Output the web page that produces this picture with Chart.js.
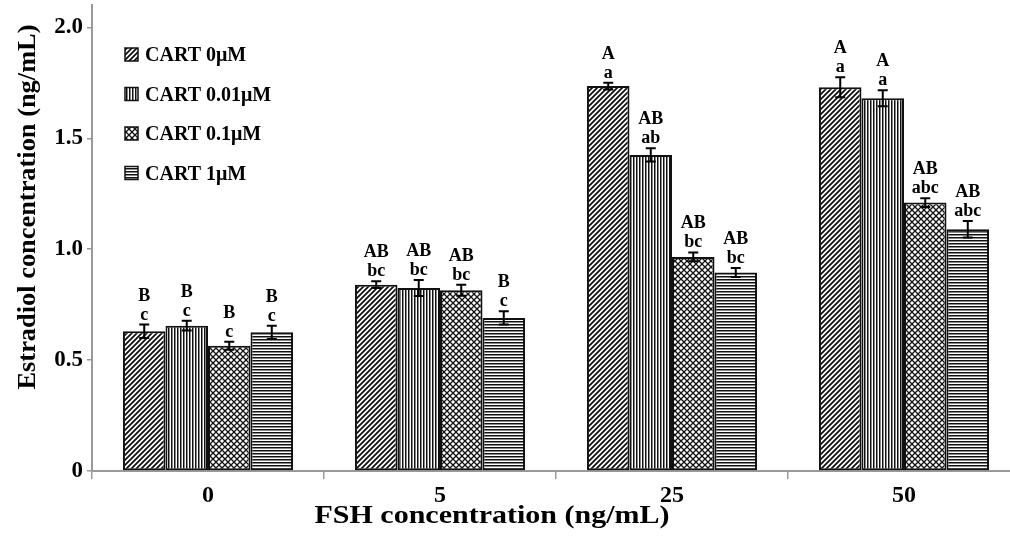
<!DOCTYPE html>
<html>
<head>
<meta charset="utf-8">
<script src="https://cdn.jsdelivr.net/npm/chart.js@4/dist/chart.umd.min.js"></script>
<style>
  html, body { margin: 0; padding: 0; background: #fff; overflow: hidden; }
  #wrap { width: 1010px; height: 536px; overflow: hidden; }
</style>
</head>
<body>
<div id="wrap"><canvas id="chart" width="1020" height="536"></canvas></div>
<script>
// FSH doses (x categories)
const categories = ['0', '5', '25', '50'];
const seriesNames = ['CART 0\u03bcM', 'CART 0.01\u03bcM', 'CART 0.1\u03bcM', 'CART 1\u03bcM'];

// estradiol means per CART dose
const cart0 = [0.63, 0.84, 1.735, 1.73];
const cart001 = [0.655, 0.825, 1.425, 1.68];
const cart01 = [0.565, 0.815, 0.965, 1.21];
const cart1 = [0.625, 0.69, 0.895, 1.09];

// error bar half-lengths
const err0 = [0.03, 0.015, 0.015, 0.045];
const err001 = [0.022, 0.036, 0.03, 0.036];
const err01 = [0.018, 0.025, 0.02, 0.02];
const err1 = [0.03, 0.03, 0.02, 0.037];

// significance letters
const upper0 = ['B', 'AB', 'A', 'A'];
const lower0 = ['c', 'bc', 'a', 'a'];
const upper001 = ['B', 'AB', 'AB', 'A'];
const lower001 = ['c', 'bc', 'ab', 'a'];
const upper01 = ['B', 'AB', 'AB', 'AB'];
const lower01 = ['c', 'bc', 'bc', 'abc'];
const upper1 = ['B', 'B', 'AB', 'AB'];
const lower1 = ['c', 'c', 'bc', 'abc'];

const yTicks = [0, 0.5, 1.0, 1.5, 2.0];

const FONT = '"Liberation Serif", "Times New Roman", serif';

function makePattern(kind) {
    let c = document.createElement('canvas');
    let g = c.getContext('2d');
    let s = kind === 'diag' ? 5 : (kind === 'cross' ? 6 : 3);
    c.width = s; c.height = s;
    g.fillStyle = '#fff';
    g.fillRect(0, 0, s, s);
    g.strokeStyle = '#111';
    if (kind === 'diag') {
        g.lineWidth = 1.8;
        g.beginPath();
        g.moveTo(-1, s + 1); g.lineTo(s + 1, -1);
        g.moveTo(-1, 1); g.lineTo(1, -1);
        g.moveTo(s - 1, s + 1); g.lineTo(s + 1, s - 1);
        g.stroke();
    } else if (kind === 'vert') {
        g.fillStyle = '#111'; g.fillRect(0, 0, 1, s);
        g.fillStyle = '#888'; g.fillRect(1, 0, 1, s);
    } else if (kind === 'horiz') {
        g.fillStyle = '#111'; g.fillRect(0, 0, s, 1);
        g.fillStyle = '#888'; g.fillRect(0, 1, s, 1);
    } else {
        g.lineWidth = 1.3;
        g.beginPath();
        g.moveTo(0, 0); g.lineTo(s, s);
        g.moveTo(s, 0); g.lineTo(0, s);
        g.stroke();
    }
    return document.createElement('canvas').getContext('2d').createPattern(c, 'repeat');
}

const patterns = [makePattern('diag'), makePattern('vert'), makePattern('cross'), makePattern('horiz')];
const values = [cart0, cart001, cart01, cart1];
const errors = [err0, err001, err01, err1];
const uppers = [upper0, upper001, upper01, upper1];
const lowers = [lower0, lower001, lower01, lower1];

const datasets = seriesNames.map((name, i) => ({
    label: name,
    data: values[i],
    backgroundColor: patterns[i],
    borderColor: '#111',
    borderWidth: 2,
    borderSkipped: false,
    categoryPercentage: 0.733,
    barPercentage: 1.0
}));

const extrasPlugin = {
    id: 'extras',
    afterDatasetsDraw: function (chart) {
        let ctx = chart.ctx;
        let y = chart.scales.y;
        ctx.save();
        chart.data.datasets.forEach((ds, i) => {
            let meta = chart.getDatasetMeta(i);
            meta.data.forEach((bar, j) => {
                let v = ds.data[j], e = errors[i][j];
                let top = y.getPixelForValue(v + e), bot = y.getPixelForValue(v - e);
                let x = bar.x;
                ctx.strokeStyle = '#000';
                ctx.lineWidth = 2;
                ctx.beginPath();
                ctx.moveTo(x, top); ctx.lineTo(x, bot);
                ctx.moveTo(x - 5, top); ctx.lineTo(x + 5, top);
                ctx.moveTo(x - 5, bot); ctx.lineTo(x + 5, bot);
                ctx.stroke();
                ctx.fillStyle = '#000';
                ctx.font = 'bold 18px ' + FONT;
                ctx.textAlign = 'center';
                ctx.textBaseline = 'alphabetic';
                ctx.fillText(lowers[i][j], x, top - 5);
                ctx.fillText(uppers[i][j], x, top - 24);
            });
        });
        ctx.restore();
    },
    afterDraw: function (chart) {
        let ctx = chart.ctx;
        ctx.save();
        ctx.fillStyle = '#000';
        // legend
        ctx.font = 'bold 20px ' + FONT;
        ctx.textBaseline = 'middle';
        ctx.textAlign = 'left';
        chart.data.datasets.forEach((ds, i) => {
            let cy = 55 + i * 39.5;
            ctx.fillStyle = ds.backgroundColor;
            ctx.fillRect(125, cy - 7, 13, 13);
            ctx.strokeStyle = '#111';
            ctx.lineWidth = 1.5;
            ctx.strokeRect(125, cy - 7, 13, 13);
            ctx.fillStyle = '#000';
            ctx.fillText(ds.label, 145, cy + 1);
        });
        // axis titles
        ctx.font = 'bold 26px ' + FONT;
        ctx.textAlign = 'center';
        ctx.textBaseline = 'alphabetic';
        let xt = 'FSH concentration (ng/mL)';
        let w = ctx.measureText(xt).width;
        ctx.save();
        ctx.translate(492, 523);
        ctx.scale(355 / w, 1);
        ctx.fillText(xt, 0, 0);
        ctx.restore();
        let yt = 'Estradiol concentration (ng/mL)';
        let wy = ctx.measureText(yt).width;
        ctx.save();
        ctx.translate(35, 207);
        ctx.rotate(-Math.PI / 2);
        ctx.scale(365 / wy, 1);
        ctx.fillText(yt, 0, 0);
        ctx.restore();
        ctx.restore();
    }
};

new Chart(document.getElementById('chart'), {
    type: 'bar',
    data: { labels: categories, datasets: datasets },
    options: {
        responsive: false,
        animation: false,
        devicePixelRatio: 1,
        layout: { padding: { top: 2, right: 0, left: 0, bottom: 0 } },
        plugins: {
            legend: { display: false },
            tooltip: { enabled: false }
        },
        scales: {
            x: {
                offset: true,
                grid: { display: true, drawOnChartArea: false, drawTicks: true, tickLength: 8, color: '#999', lineWidth: 1.5 },
                border: { color: '#999', width: 2 },
                ticks: { color: '#000', font: { family: FONT, size: 24, weight: 'bold' }, padding: 2 },
                afterFit: function (s) { s.height = 65; }
            },
            y: {
                min: 0,
                max: 2.1,
                grid: { display: true, drawOnChartArea: false, drawTicks: true, tickLength: 5, color: '#999', lineWidth: 1.5 },
                border: { color: '#999', width: 2 },
                ticks: {
                    color: '#000',
                    font: { family: FONT, size: 23, weight: 'bold', lineHeight: 0.1 },
                    padding: 4,
                    callback: function (v) { return v === 0 ? '0' : Number(v).toFixed(1); }
                },
                afterBuildTicks: function (s) { s.ticks = yTicks.map(v => ({ value: v })); },
                afterFit: function (s) { s.width = 92; }
            }
        }
    },
    plugins: [extrasPlugin]
});
</script>
</body>
</html>
